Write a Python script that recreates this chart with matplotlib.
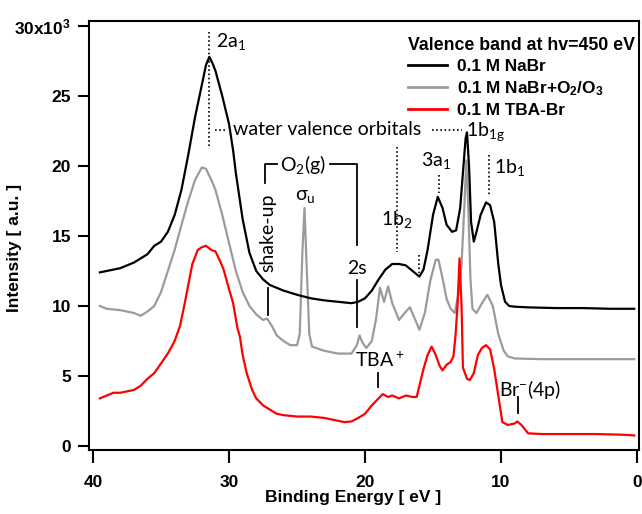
import matplotlib
matplotlib.use("Agg")
import matplotlib.pyplot as plt
from matplotlib.lines import Line2D

plt.rcParams['font.family'] = ['Liberation Sans', 'DejaVu Sans']
plt.rcParams['mathtext.default'] = 'regular'

# ---------------- data (binding energy in eV, intensity in 10^3 counts) ----------------
nabr_e = [39.5, 39.0, 38.0, 37.0, 36.0, 35.5, 35.0, 34.5, 34.0, 33.5, 33.0, 32.5, 32.0, 31.7,
          31.45, 31.2, 31.0, 30.5, 30.0, 29.7, 29.5, 29.0, 28.5, 28.0, 27.5, 27.0, 26.0, 25.0,
          24.0, 23.0, 22.0, 21.0, 20.5, 20.0, 19.5, 19.0, 18.5, 18.0, 17.5, 17.0, 16.5, 16.0,
          15.7, 15.4, 15.0, 14.65, 14.3, 14.0, 13.6, 13.3, 13.0, 12.8, 12.6, 12.5, 12.35, 12.2,
          12.0, 11.8, 11.5, 11.1, 10.8, 10.5, 10.2, 10.0, 9.7, 9.4, 9.0, 8.0, 6.0, 4.0, 2.0, 0.2]
nabr_i = [12.4, 12.5, 12.7, 13.1, 13.7, 14.3, 14.6, 15.3, 16.5, 18.3, 20.8, 23.5, 25.8, 27.2,
          27.8, 27.3, 26.8, 25.0, 23.0, 21.1, 19.5, 16.2, 13.8, 12.5, 11.9, 11.5, 11.1, 10.8,
          10.55, 10.4, 10.3, 10.2, 10.3, 10.55, 11.1, 11.9, 12.6, 13.0, 13.0, 12.9, 12.5, 12.1,
          12.6, 14.0, 16.5, 17.8, 17.0, 15.8, 15.3, 15.4, 17.0, 19.5, 22.0, 22.4, 20.0, 16.0,
          14.6, 15.3, 16.5, 17.4, 17.2, 16.0, 13.0, 11.5, 10.3, 10.0, 9.95, 9.9, 9.85, 9.85, 9.8, 9.8]

ozone_e = [39.5, 39.0, 38.0, 37.0, 36.5, 36.0, 35.5, 35.0, 34.5, 34.0, 33.5, 33.0, 32.5, 32.0,
           31.7, 31.3, 31.0, 30.5, 30.0, 29.5, 29.0, 28.5, 28.0, 27.5, 27.2, 26.8, 26.5, 26.0,
           25.5, 25.0, 24.8, 24.6, 24.45, 24.3, 24.1, 23.9, 23.0, 22.0, 21.0, 20.6, 20.4, 20.2,
           19.9, 19.5, 19.2, 18.9, 18.6, 18.3, 18.0, 17.5, 17.0, 16.7, 16.3, 16.0, 15.6, 15.2,
           14.8, 14.6, 14.3, 14.0, 13.7, 13.4, 13.1, 12.9, 12.7, 12.55, 12.4, 12.25, 12.1, 11.8,
           11.4, 11.0, 10.6, 10.2, 9.8, 9.5, 9.0, 7.0, 4.0, 2.0, 0.2]
ozone_i = [10.0, 9.8, 9.7, 9.5, 9.3, 9.6, 10.0, 11.0, 12.5, 14.0, 15.8, 17.5, 19.0, 19.9,
           19.8, 19.0, 18.3, 16.5, 14.5, 12.5, 11.0, 10.0, 9.4, 9.0, 9.1, 8.5, 7.9, 7.5,
           7.2, 7.2, 8.0, 14.0, 17.0, 13.0, 8.0, 7.1, 6.8, 6.6, 6.6, 7.2, 7.9, 7.4,
           7.0, 7.5, 9.0, 11.3, 10.3, 11.4, 10.2, 9.0, 9.6, 9.9, 9.0, 8.3, 9.5, 11.8,
           13.3, 13.3, 12.0, 10.5, 9.8, 9.5, 11.0, 13.0, 17.0, 20.4, 17.0, 12.0, 9.8, 9.5,
           10.2, 10.8, 10.0, 8.0, 6.8, 6.4, 6.25, 6.2, 6.2, 6.2, 6.2]

tba_e = [39.5, 39.0, 38.5, 38.0, 37.0, 36.5, 36.0, 35.5, 35.0, 34.5, 34.0, 33.6, 33.3, 33.0,
         32.7, 32.3, 32.0, 31.7, 31.3, 31.0, 30.7, 30.4, 30.0, 29.7, 29.4, 29.2, 29.0, 28.7,
         28.3, 28.0, 27.5, 27.0, 26.5, 26.0, 25.0, 24.0, 23.0, 22.0, 21.5, 21.0, 20.5, 20.0,
         19.5, 19.0, 18.7, 18.3, 18.0, 17.5, 17.0, 16.5, 16.2, 16.0, 15.7, 15.4, 15.1, 14.8,
         14.5, 14.3, 14.0, 13.7, 13.5, 13.35, 13.2, 13.05, 12.9, 12.8, 12.5, 12.3, 12.0, 11.7,
         11.4, 11.1, 10.8, 10.5, 10.2, 9.9, 9.5, 9.0, 8.8, 8.5, 8.0, 7.0, 5.0, 3.0, 1.0, 0.2]
tba_i = [3.4, 3.6, 3.8, 3.8, 4.0, 4.3, 4.8, 5.2, 5.9, 6.6, 7.5, 8.6, 10.0, 11.5,
         13.0, 14.0, 14.2, 14.3, 14.0, 13.9, 13.3, 12.6, 11.2, 10.2, 8.5, 7.8, 6.5, 5.2,
         4.0, 3.4, 2.9, 2.6, 2.3, 2.2, 2.1, 2.1, 2.0, 1.8, 1.7, 1.75, 2.0, 2.3,
         2.9, 3.4, 3.7, 3.5, 3.6, 3.4, 3.6, 3.5, 3.5, 4.3, 5.5, 6.5, 7.1, 6.5,
         5.7, 5.4, 5.8, 6.0, 6.4, 7.8, 10.0, 13.4, 10.0, 5.6, 4.8, 4.7, 5.2, 6.5,
         7.0, 7.2, 6.9, 5.5, 3.6, 1.7, 1.5, 1.6, 1.75, 1.5, 0.9, 0.85, 0.85, 0.85, 0.8, 0.75]

series_labels = ['0.1 M NaBr', '0.1 M NaBr+O$_2$/O$_3$', '0.1 M TBA-Br']
legend_title = 'Valence band at hv=450 eV'
x_ticks = [40, 30, 20, 10, 0]
y_ticks = [0, 5, 10, 15, 20, 25, 30]
y_ticklabels = ['0', '5', '10', '15', '20', '25', '30x10$^3$']

# ---------------- figure ----------------
fig = plt.figure(figsize=(6.42, 5.14), dpi=100)
ax = fig.add_axes([89 / 642, 1 - 450 / 514, 550 / 642, 429 / 514])

colors = ['#000000', '#9b9b9b', '#ff0000']
lw = 1.6
ax.plot(nabr_e, nabr_i, color=colors[0], lw=lw, zorder=3)
ax.plot(ozone_e, ozone_i, color=colors[1], lw=lw, zorder=2)
ax.plot(tba_e, tba_i, color=colors[2], lw=lw, zorder=2.5)

ax.set_xlim(40.3, -0.15)
ax.set_ylim(-0.29, 30.36)

ax.set_xticks(x_ticks)
ax.set_xticklabels([str(t) for t in x_ticks])
ax.set_yticks(y_ticks)
ax.set_yticklabels(y_ticklabels)
ax.tick_params(axis='both', direction='out', width=1.5, labelsize=12.5)
ax.tick_params(axis='y', length=8, pad=5)
ax.tick_params(axis='x', length=9, pad=9)
for lab in ax.get_xticklabels() + ax.get_yticklabels():
    lab.set_fontweight('bold')
for s in ax.spines.values():
    s.set_linewidth(1.5)

ax.set_xlabel('Binding Energy [ eV ]', fontsize=12.5, fontweight='bold')
ax.set_ylabel('Intensity [ a.u. ]', fontsize=12.5, fontweight='bold')
ax.xaxis.set_label_coords(0.48, -0.093)
ax.yaxis.set_label_coords(-0.122, 0.471)

# legend
handles = [Line2D([], [], color=c, lw=2) for c in colors]
leg = ax.legend(handles, series_labels, loc='upper right', bbox_to_anchor=(1.0, 0.972),
                frameon=False, title=legend_title, alignment='left',
                prop={'weight': 'bold', 'size': 12.4},
                title_fontproperties={'weight': 'bold', 'size': 12.8},
                handlelength=2.3, handletextpad=0.55, labelspacing=0.28, borderpad=0.2,
                borderaxespad=0.05)

# ---------------- annotations ----------------
afont = dict(family=['Lato', 'DejaVu Sans'], fontsize=14, color='black')
dot = dict(color='black', lw=1.2, ls=(0, (1, 1.5)))
solid = dict(color='black', lw=1.3)

ax.text(29.85, 28.9, '2a$_1$', ha='center', va='center', **afont)
ax.plot([31.47, 31.47], [21.4, 29.6], **dot)

ax.plot([31.0, 30.3], [22.6, 22.6], **dot)
ax.text(29.7, 22.6, 'water valence orbitals', ha='left', va='center', **afont)
ax.plot([15.07, 12.87], [22.6, 22.6], **dot)
ax.text(12.55, 22.45, '1b$_{1g}$', ha='left', va='center', **afont)

ax.text(24.6, 20.14, 'O$_2$(g)', ha='center', va='center', **afont)
ax.plot([27.35, 27.35, 26.47], [18.79, 20.14, 20.14], **solid)
ax.plot([22.57, 20.59, 20.59], [20.14, 20.14, 14.36], **solid)
ax.plot([20.59, 20.59], [11.86, 8.5], **solid)
ax.text(20.59, 12.7, '2s', ha='center', va='center', **afont)

ax.text(27.13, 15.2, 'shake-up', ha='center', va='center', rotation=90, **afont)
ax.plot([27.13, 27.13], [11.29, 9.36], **solid)
ax.text(24.4, 17.8, 'σ$_u$', ha='center', va='center', **afont)

ax.text(17.65, 16.2, '1b$_2$', ha='center', va='center', **afont)
ax.plot([17.65, 17.65], [21.36, 13.86], **dot)
ax.plot([16.03, 16.03], [13.64, 12.36], **dot)

ax.text(14.78, 20.4, '3a$_1$', ha='center', va='center', **afont)
ax.plot([14.56, 14.56], [19.36, 18.07], **dot)

ax.text(9.34, 19.9, '1b$_1$', ha='center', va='center', **afont)
ax.plot([10.88, 10.88], [20.8, 17.9], **dot)

ax.text(18.9, 6.1, 'TBA$^+$', ha='center', va='center', **afont)
ax.plot([19.04, 19.04], [5.2, 4.2], **solid)

ax.text(7.87, 4.05, 'Br$^{-}$(4p)', ha='center', va='center', **afont)
ax.plot([8.75, 8.75], [3.5, 2.36], **solid)

fig.savefig('out.png', dpi=100)
